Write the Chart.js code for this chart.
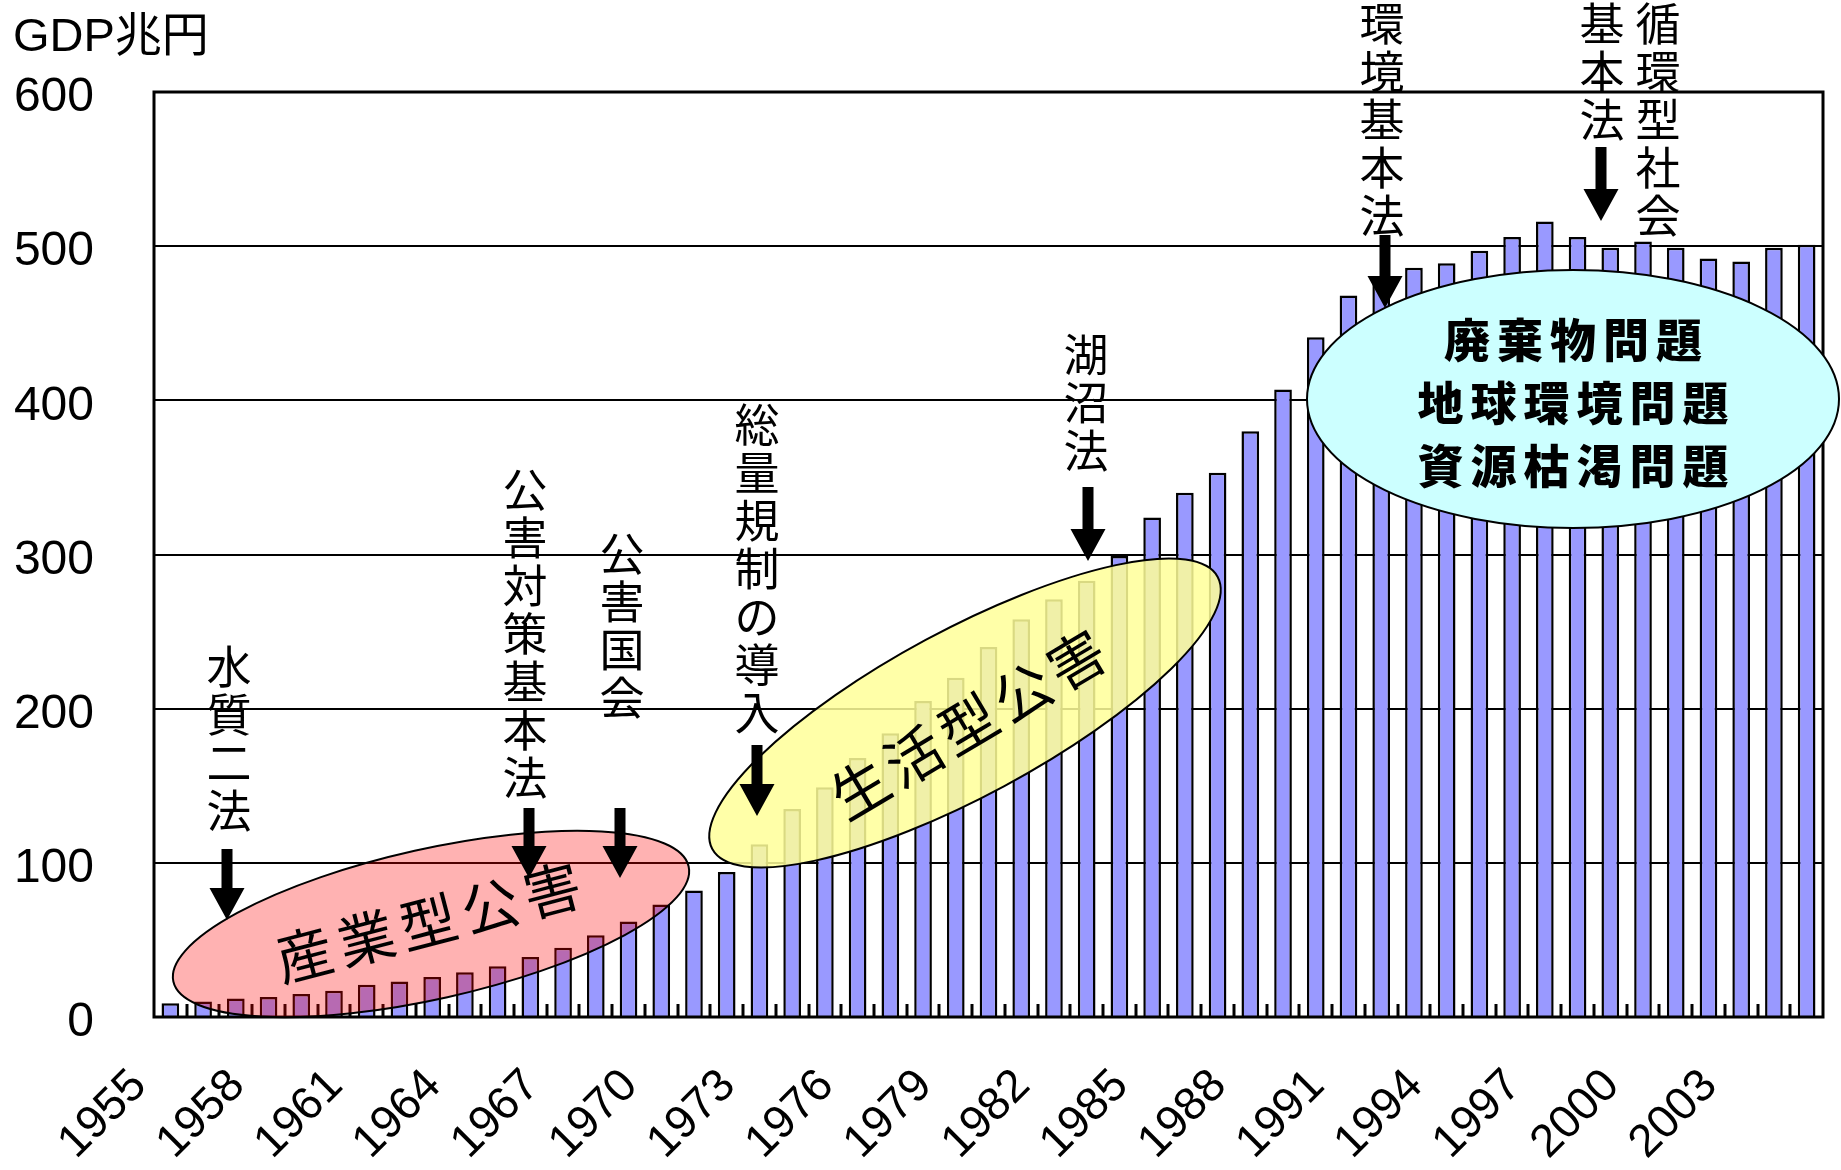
<!DOCTYPE html>
<html>
<head>
<meta charset="utf-8">
<script src="https://cdn.jsdelivr.net/npm/chart.js@4.4.1/dist/chart.umd.min.js"></script>
<style>
  html, body { margin: 0; padding: 0; background: #fff; }
</style>
</head>
<body>
<canvas id="gdpChart" width="1841" height="1170"></canvas>
<script>
// categories: one bar per year
const years = [
  '1955', '1956', '1957', '1958', '1959', '1960', '1961', '1962', '1963', '1964',
  '1965', '1966', '1967', '1968', '1969', '1970', '1971', '1972', '1973', '1974',
  '1975', '1976', '1977', '1978', '1979', '1980', '1981', '1982', '1983', '1984',
  '1985', '1986', '1987', '1988', '1989', '1990', '1991', '1992', '1993', '1994',
  '1995', '1996', '1997', '1998', '1999', '2000', '2001', '2002', '2003', '2004',
  '2005'
];

// GDP (兆円)
const gdp = [
  9, 10, 12, 13, 15, 17, 21, 23, 26, 29,
  33, 39, 45, 53, 62, 73, 82, 94, 112, 135,
  149, 168, 184, 205, 220, 240, 258, 271, 283, 299,
  324, 340, 353, 380, 407, 441, 468, 480, 486, 489,
  497, 506, 516, 506, 499, 503, 499, 492, 490, 499,
  501
];

// which year labels are shown on the x axis
const xTickLabels = ['1955', '1958', '1961', '1964', '1967', '1970', '1973', '1976',
  '1979', '1982', '1985', '1988', '1991', '1994', '1997', '2000', '2003'];

const yTicks = [0, 100, 200, 300, 400, 500, 600];

const NUM_FONT = '"Liberation Sans", Arial, "Noto Sans CJK JP", sans-serif';
const JP_FONT = '"Noto Sans CJK JP", "Noto Sans CJK SC", sans-serif';

// vertical law labels with arrows: x, centre of first char, arrow top / tip
const laws = [
  { text: '水質二法', x: 229, y0: 667, ax: 227, a1: 849, a2: 920 },
  { text: '公害対策基本法', x: 525, y0: 490, ax: 529, a1: 808, a2: 878 },
  { text: '公害国会', x: 622, y0: 554, ax: 620, a1: 808, a2: 878 },
  { text: '総量規制の導入', x: 757, y0: 425, ax: 757, a1: 745, a2: 816 },
  { text: '湖沼法', x: 1086, y0: 355, ax: 1088, a1: 487, a2: 561 },
  { text: '環境基本法', x: 1382, y0: 24, ax: 1385, a1: 235, a2: 308 },
  { text: '循環型社会', x: 1658, y0: 24 },
  { text: '基本法', x: 1602, y0: 24, ax: 1601, a1: 147, a2: 221 }
];

function ellipse(ctx, cx, cy, rx, ry, deg, fill) {
  ctx.save();
  ctx.beginPath();
  ctx.ellipse(cx, cy, rx, ry, deg * Math.PI / 180, 0, Math.PI * 2);
  ctx.fillStyle = fill;
  ctx.fill();
  ctx.lineWidth = 2;
  ctx.strokeStyle = '#000';
  ctx.stroke();
  ctx.restore();
}

function rotatedText(ctx, str, cx, cy, deg, pitch, font) {
  const chars = [...str];
  ctx.save();
  ctx.translate(cx, cy);
  ctx.rotate(deg * Math.PI / 180);
  ctx.font = font;
  ctx.fillStyle = '#000';
  ctx.textAlign = 'center';
  ctx.textBaseline = 'middle';
  chars.forEach((ch, i) => {
    ctx.fillText(ch, (i - (chars.length - 1) / 2) * pitch, 0);
  });
  ctx.restore();
}

function arrow(ctx, x, y1, y2) {
  const head = 32, hw = 17.5, sw = 5.5;
  ctx.beginPath();
  ctx.moveTo(x - sw, y1);
  ctx.lineTo(x + sw, y1);
  ctx.lineTo(x + sw, y2 - head);
  ctx.lineTo(x + hw, y2 - head);
  ctx.lineTo(x, y2);
  ctx.lineTo(x - hw, y2 - head);
  ctx.lineTo(x - sw, y2 - head);
  ctx.closePath();
  ctx.fillStyle = '#000';
  ctx.fill();
}

const decor = {
  id: 'decor',
  afterDatasetsDraw(chart) {
    const ctx = chart.ctx;
    const a = chart.chartArea;
    const x = chart.scales.x;
    const step = x.width / years.length;
    ctx.save();
    // short inward tick marks between categories
    ctx.strokeStyle = '#000';
    ctx.lineWidth = 3;
    for (let i = 1; i < years.length; i++) {
      const px = Math.round(x.left + i * step);
      ctx.beginPath();
      ctx.moveTo(px, a.bottom);
      ctx.lineTo(px, a.bottom - 13);
      ctx.stroke();
    }
    // plot frame
    ctx.lineWidth = 3;
    ctx.strokeRect(a.left, a.top, a.right - a.left, a.bottom - a.top);
    ctx.restore();
  },
  afterDraw(chart) {
    const ctx = chart.ctx;
    ctx.save();

    // title
    ctx.font = '47px ' + NUM_FONT;
    ctx.fillStyle = '#000';
    ctx.textAlign = 'left';
    ctx.textBaseline = 'alphabetic';
    ctx.fillText('GDP兆円', 13, 51);

    // pollution-era ellipses
    ellipse(ctx, 431, 924, 264, 75, -12.6, 'rgba(255,0,0,0.3)');
    rotatedText(ctx, '産業型公害', 428, 922, -14.6, 64, '57px ' + JP_FONT);

    ellipse(ctx, 965, 713, 287, 83, -28.3, 'rgba(255,255,153,0.85)');
    rotatedText(ctx, '生活型公害', 968, 724, -30.8, 63, '57px ' + JP_FONT);

    // law labels and arrows
    ctx.font = '45px ' + JP_FONT;
    ctx.fillStyle = '#000';
    ctx.textAlign = 'center';
    ctx.textBaseline = 'middle';
    laws.forEach(l => {
      [...l.text].forEach((ch, i) => ctx.fillText(ch, l.x, l.y0 + i * 48));
      if (l.ax) arrow(ctx, l.ax, l.a1, l.a2);
    });

    ellipse(ctx, 1573, 399, 266, 129, 0, '#ccffff');
    const boldFont = '900 46px ' + JP_FONT;
    rotatedText(ctx, '廃棄物問題', 1573, 340, 0, 53, boldFont);
    rotatedText(ctx, '地球環境問題', 1573, 403, 0, 53, boldFont);
    rotatedText(ctx, '資源枯渇問題', 1573, 466, 0, 53, boldFont);

    ctx.restore();
  }
};

new Chart(document.getElementById('gdpChart'), {
  type: 'bar',
  data: {
    labels: years,
    datasets: [{
      data: gdp,
      backgroundColor: '#9999ff',
      borderColor: '#000',
      borderWidth: 2.5,
      barPercentage: 0.54,
      categoryPercentage: 1
    }]
  },
  options: {
    responsive: false,
    animation: false,
    devicePixelRatio: 1,
    layout: { padding: { top: 92, right: 18, left: 0, bottom: 0 } },
    plugins: {
      legend: { display: false },
      tooltip: { enabled: false }
    },
    scales: {
      x: {
        grid: { display: false, drawTicks: false },
        border: { display: false },
        ticks: {
          autoSkip: false,
          minRotation: 45,
          maxRotation: 45,
          padding: 42,
          labelOffset: -31,
          color: '#000',
          font: { size: 46, family: NUM_FONT },
          callback: function(value, index) {
            const y = years[index];
            return xTickLabels.includes(y) ? y : '';
          }
        },
        afterFit: s => {
          s.height = 153;
          s.paddingLeft = 0;
          s.paddingRight = 0;
        }
      },
      y: {
        min: 0,
        max: 600,
        afterBuildTicks: s => { s.ticks = yTicks.map(v => ({ value: v })); },
        ticks: {
          padding: 60,
          labelOffset: 6,
          color: '#000',
          font: { size: 48, family: NUM_FONT }
        },
        grid: { color: '#000', lineWidth: 2, drawTicks: false },
        border: { display: false },
        afterFit: s => {
          s.width = 154;
          s.paddingTop = 0;
          s.paddingBottom = 0;
        }
      }
    }
  },
  plugins: [decor]
});
</script>
</body>
</html>
